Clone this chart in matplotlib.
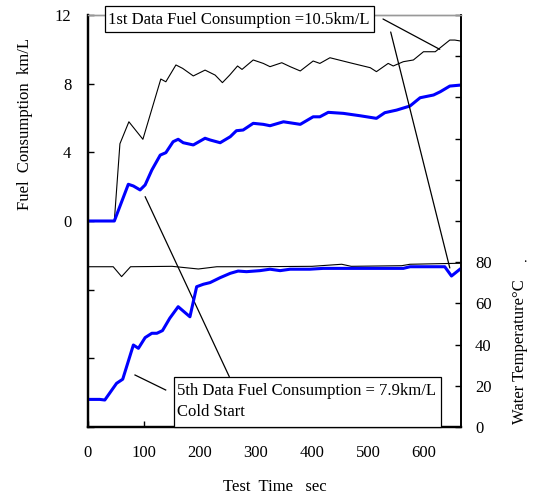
import matplotlib
matplotlib.use("Agg")
import matplotlib.pyplot as plt
from matplotlib.patches import Rectangle
from matplotlib.lines import Line2D

plt.rcParams['font.family'] = ['Liberation Serif', 'DejaVu Serif']
plt.rcParams['mathtext.fontset'] = 'stix'

# ---- data ----
t_fuel1 = [0, 47, 57, 73, 98, 130, 139, 157, 169, 188, 209, 227, 240, 253, 267, 275, 295, 313, 325,
           346, 361, 379, 402, 414, 432, 470, 504, 515, 536, 545, 563, 581, 599, 620, 646, 655, 666]
fuel1 = [0, 0, 4.5, 5.78, 4.76, 8.27, 8.11, 9.09, 8.89, 8.45, 8.79, 8.5, 8.06, 8.5, 9.03, 8.83, 9.38,
         9.18, 8.99, 9.22, 8.99, 8.74, 9.32, 9.18, 9.51, 9.2, 8.93, 8.70, 9.18, 9.03, 9.28, 9.38, 9.86,
         9.86, 10.54, 10.54, 10.48]

t_fuel5 = [0, 47, 72, 81, 93, 102, 114, 129, 139, 152, 161, 170, 188, 209, 218, 236, 254, 265, 277,
           295, 313, 325, 349, 379, 402, 414, 429, 456, 486, 515, 530, 551, 575, 593, 617, 629, 646, 666]
fuel5 = [0, 0, 2.14, 2.04, 1.81, 2.1, 2.97, 3.84, 3.98, 4.62, 4.76, 4.56, 4.43, 4.82, 4.72, 4.56, 4.91,
         5.26, 5.30, 5.69, 5.63, 5.55, 5.78, 5.63, 6.07, 6.07, 6.33, 6.27, 6.13, 5.98, 6.31, 6.46, 6.70,
         7.18, 7.34, 7.53, 7.86, 7.92]

t_temp1 = [0, 45, 60, 76, 150, 197, 230, 300, 400, 453, 470, 560, 575, 666]
temp1 = [77.8, 77.8, 73, 77.8, 78, 76.7, 77.8, 77.8, 78, 79, 78, 78.3, 79, 79.5]

t_temp5 = [0, 21, 30, 51, 62, 81, 90, 102, 114, 123, 133, 146, 161, 182, 194, 206, 218, 236, 254,
           268, 283, 307, 325, 343, 361, 396, 420, 563, 575, 637, 649, 666]
temp5 = [13.4, 13.4, 13.1, 21.2, 23.2, 39.8, 38.2, 43.4, 45.5, 45.5, 46.8, 52.8, 58.4, 53.5, 68.1,
         69.3, 70.1, 72.5, 74.6, 75.7, 75.4, 75.9, 76.6, 75.9, 76.6, 76.6, 77.0, 77.0, 77.8, 77.8,
         73.3, 77.0]

x_ticks = [0, 100, 200, 300, 400, 500, 600]
fuel_ticks = [-12, -8, -4, 0, 4, 8, 12]
fuel_labels = ['', '', '', '0', '4', '8', '12']
temp_ticks = list(range(0, 201, 20))
temp_labels = ['0', '20', '40', '60', '80'] + [''] * 6

note1 = "1st Data Fuel Consumption =10.5km/L"
note5 = "5th Data Fuel Consumption = 7.9km/L\nCold Start"

# ---- figure ----
W, H = 534, 495
fig = plt.figure(figsize=(W / 100, H / 100), dpi=100)

def fx(px):
    return px / W

def fy(py):
    return 1 - py / H

L, R, T, B = 88, 461, 15, 427
ax = fig.add_axes([fx(L), fy(B), fx(R - L), (B - T) / H])
ax2 = ax.twinx()

ax.plot(t_fuel1, fuel1, color='black', lw=0.8)
ax.plot(t_fuel5, fuel5, color='#0000ff', lw=2.2)
ax2.plot(t_temp1, temp1, color='black', lw=0.8)
ax2.plot(t_temp5, temp5, color='#0000ff', lw=2.2)

ax.set_xlim(0, 666)
ax.set_ylim(-12, 12)
ax2.set_ylim(0, 200)

ax.set_xticks(x_ticks)
ax.set_yticks(fuel_ticks)
ax.set_yticklabels(fuel_labels)
ax2.set_yticks(temp_ticks)
ax2.set_yticklabels(temp_labels)

ax.tick_params(axis='x', direction='in', length=4, width=1, labelsize=12, pad=13)
ax.tick_params(axis='y', direction='in', length=4, width=1, labelsize=12, pad=12)
ax2.tick_params(axis='y', direction='in', length=4.5, width=1, labelsize=12, pad=10)

for a in (ax, ax2):
    a.spines['left'].set_linewidth(1.6)
    a.spines['bottom'].set_linewidth(1.6)
    a.spines['right'].set_linewidth(1.2)
    a.spines['top'].set_linewidth(1.0)
    a.spines['top'].set_color('#999999')

# axis labels
fig.text(fx(25), fy(124), "Fuel  Consumption  km/L", rotation=90, ha='center', va='center', fontsize=12)
fig.text(fx(520), fy(352), "Water Temperature°C", rotation=90, ha='center', va='center', fontsize=12)
fig.text(fx(525), fy(259), ".", ha='center', va='center', fontsize=10)
fig.text(fx(275), fy(487), "Test  Time   sec", ha='center', va='center', fontsize=12)

# annotation boxes
fig.patches.append(Rectangle((fx(104.7), fy(32.3)), fx(374.3 - 104.7), (32.3 - 6) / H,
                             transform=fig.transFigure, facecolor='white', edgecolor='black',
                             lw=0.9, zorder=5))
fig.text(fx(108), fy(19.5), note1, ha='left', va='center', fontsize=12, zorder=6)

fig.patches.append(Rectangle((fx(174), fy(427)), fx(440.7 - 174), (427 - 376.7) / H,
                             transform=fig.transFigure, facecolor='white', edgecolor='black',
                             lw=0.9, zorder=5))
fig.text(fx(177), fy(401.5), note5, ha='left', va='center', fontsize=12, zorder=6, linespacing=1.4)

# leader lines
ax.annotate("", xy=(628, 10.0), xycoords='data', xytext=(383, H - 19), textcoords='figure pixels',
            arrowprops=dict(arrowstyle='-', lw=0.9, color='black', shrinkA=0, shrinkB=0))
ax2.annotate("", xy=(646, 77.2), xycoords='data', xytext=(390.7, H - 32), textcoords='figure pixels',
             arrowprops=dict(arrowstyle='-', lw=0.9, color='black', shrinkA=0, shrinkB=0))
ax.annotate("", xy=(102, 1.42), xycoords='data', xytext=(229.3, H - 376.7), textcoords='figure pixels',
            arrowprops=dict(arrowstyle='-', lw=0.9, color='black', shrinkA=0, shrinkB=0))
fig.lines.append(Line2D([fx(135), fx(165.7)], [fy(375), fy(390)], transform=fig.transFigure,
                        color='black', lw=0.9))

fig.savefig("out.png", dpi=100)
